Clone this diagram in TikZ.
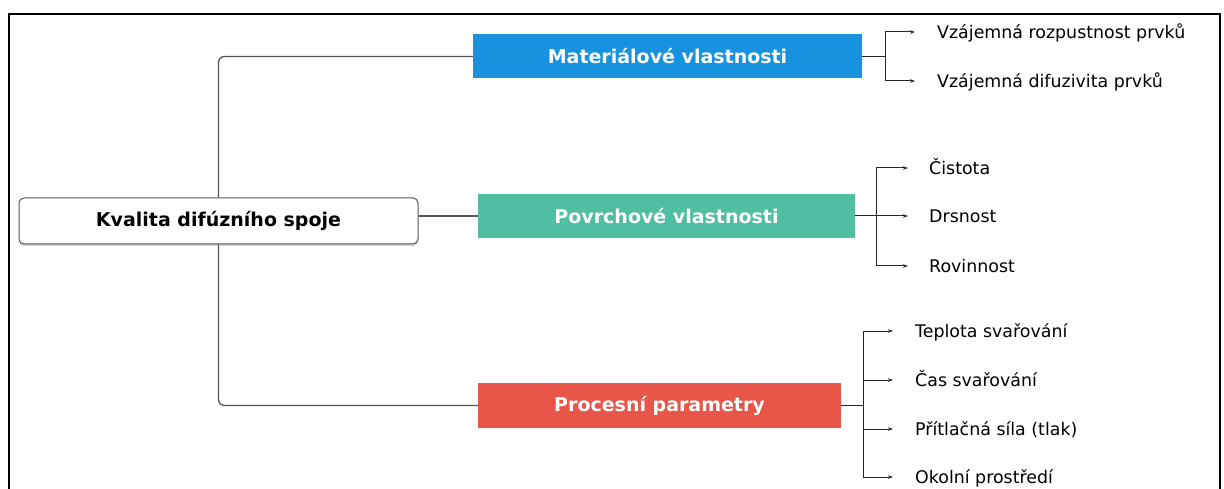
\documentclass[tikz,border=0pt]{standalone}
\usepackage{fontspec}
\setmainfont{DejaVu Sans}
\usetikzlibrary{arrows.meta,shadows}
\definecolor{matblue}{RGB}{22,146,222}
\definecolor{povgreen}{RGB}{80,190,160}
\definecolor{procred}{RGB}{232,86,74}
\definecolor{linegray}{RGB}{85,85,85}
\tikzset{
  rootbox/.style={draw=linegray, fill=white, rounded corners=5pt, line width=1pt,
    minimum width=399pt, minimum height=46pt, inner sep=0pt,
    font=\fontsize{19}{21}\selectfont\bfseries,
    drop shadow={shadow xshift=0pt, shadow yshift=-2pt, opacity=0.35}},
  catbox/.style={fill=#1, text=white, inner sep=0pt, minimum height=44pt,
    font=\fontsize{19}{21}\selectfont\bfseries},
  leaf/.style={anchor=west, inner sep=0pt, text height=13pt, text depth=0pt,
    font=\fontsize{17.4}{19}\selectfont},
  conn/.style={draw=linegray, line width=1.3pt, rounded corners=6pt},
  branch/.style={draw=black!85, line width=1pt},
  arr/.style={branch, -{Stealth[length=5pt,width=3.5pt]}}
}
\begin{document}
\begin{tikzpicture}[x=1pt,y=-1pt]
\clip (0,0) rectangle (1224,489);
\fill[white] (0,0) rectangle (1224,489);
% outer frame
\draw[line width=1.8pt] (9,14) rectangle (1220,520);

% root and the three categories
\node[rootbox] (root) at (218.5,221) {Kvalita difúzního spoje};
\node[catbox=matblue, minimum width=389pt] (mat) at (667.5,56.5) {Materiálové vlastnosti};
\node[catbox=povgreen, minimum width=377pt] (pov) at (666.5,216) {Povrchové vlastnosti};
\node[catbox=procred, minimum width=363pt, minimum height=45pt] (proc) at (659.5,405.5) {Procesní parametry};

\draw[conn] (root.north) |- (mat.west);
\draw[conn] (root.south) |- (proc.west);
\draw[conn] (root.east |- pov.west) -- (pov.west);

% leaves of the first category
\coordinate (j1) at (885,56.5);
\node[leaf] (m1) at (937,32) {Vzájemná rozpustnost prvků};
\node[leaf] (m2) at (937,81) {Vzájemná difuzivita prvků};
\draw[branch] (mat.east) -- (j1);
\draw[arr] (j1) |- ([xshift=-22pt]m1.west);
\draw[arr] (j1) |- ([xshift=-22pt]m2.west);

% leaves of the second category
\coordinate (j2) at (876,216);
\node[leaf] (p1) at (929,168) {Čistota};
\node[leaf] (p2) at (929,216) {Drsnost};
\node[leaf] (p3) at (929,266) {Rovinnost};
\draw[branch] (pov.east) -- (j2);
\draw[arr] (j2) |- ([xshift=-21pt]p1.west);
\draw[arr] (j2) -- ([xshift=-21pt]p2.west);
\draw[arr] (j2) |- ([xshift=-21pt]p3.west);

% leaves of the third category
\coordinate (j3) at (863,405.5);
\node[leaf] (r1) at (915,331) {Teplota svařování};
\node[leaf] (r2) at (915,380) {Čas svařování};
\node[leaf] (r3) at (915,429) {Přítlačná síla (tlak)};
\node[leaf] (r4) at (915,477) {Okolní prostředí};
\draw[branch] (proc.east) -- (j3);
\draw[arr] (j3) |- ([xshift=-22pt]r1.west);
\draw[arr] (j3) |- ([xshift=-22pt]r2.west);
\draw[arr] (j3) |- ([xshift=-22pt]r3.west);
\draw[arr] (j3) |- ([xshift=-22pt]r4.west);
\end{tikzpicture}
\end{document}
